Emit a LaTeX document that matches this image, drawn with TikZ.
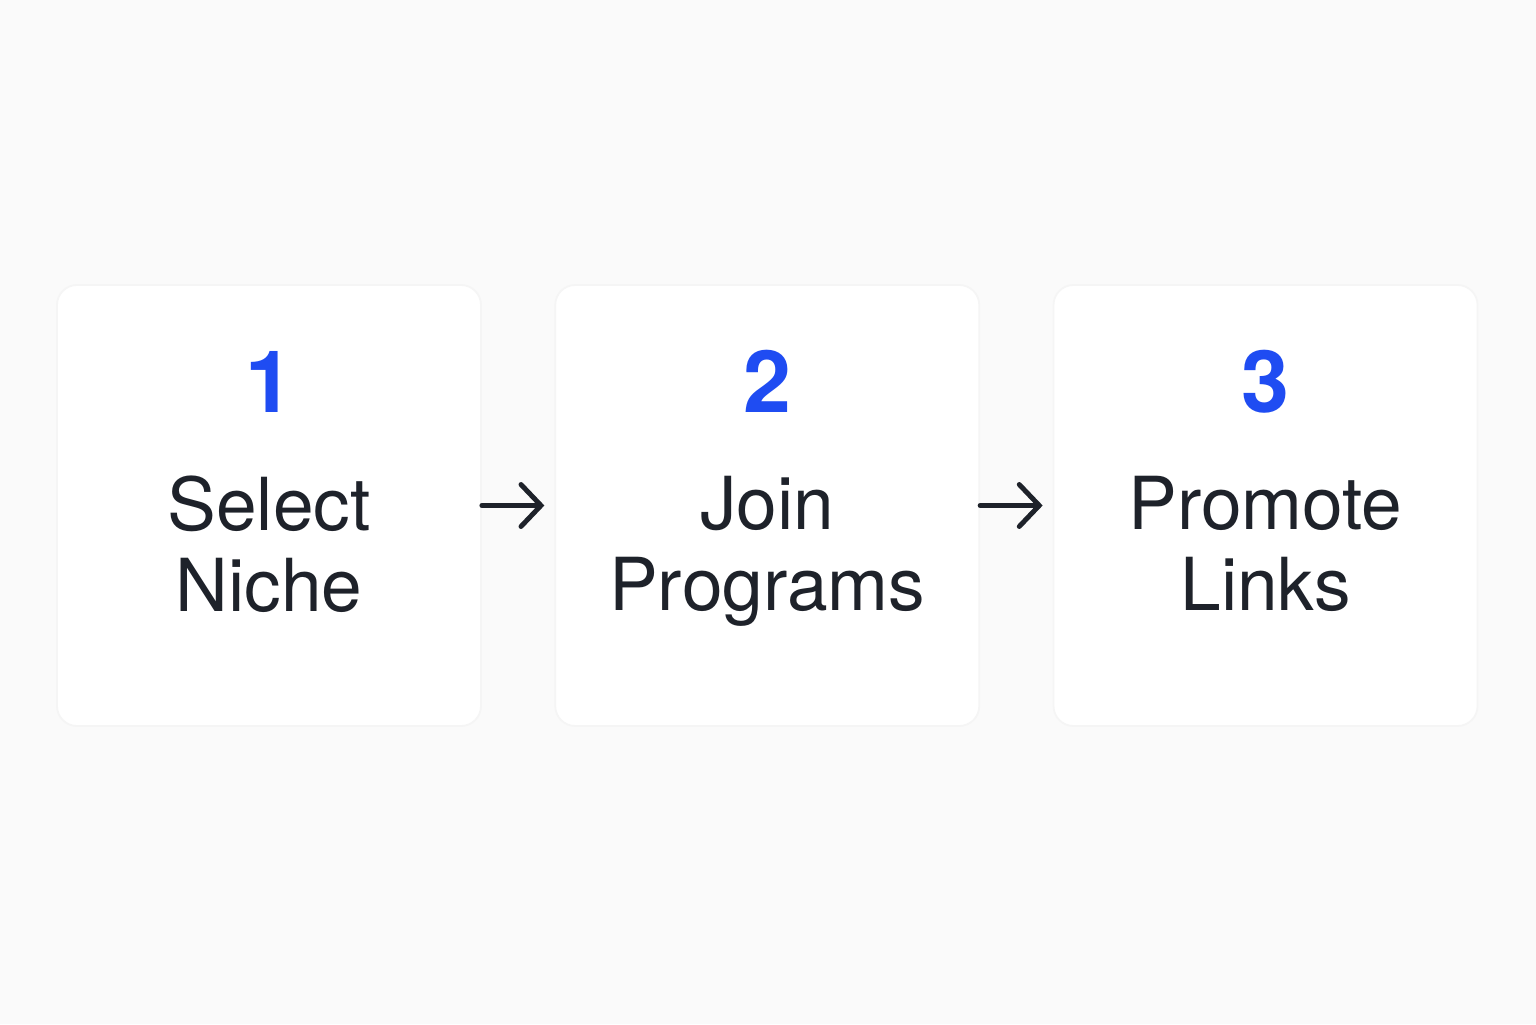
\documentclass[tikz,border=0pt]{standalone}
\usepackage{fontspec}
\setmainfont{TeX Gyre Heros}
\usetikzlibrary{arrows.meta,positioning}

\definecolor{pagebg}{HTML}{FAFAFA}
\definecolor{stepblue}{HTML}{1F4CF2}
\definecolor{steptext}{HTML}{1E222A}

\newcommand{\stepline}[1]{\vphantom{Pg}#1}

\begin{document}
\begin{tikzpicture}[
    node distance=0.725cm,
    % Boxes
    stepbox/.style={rectangle, rounded corners=0.2cm, fill=white, draw=black!4, line width=0.5pt,
        minimum width=4.24cm, minimum height=4.41cm},
    % Texts
    num/.style={font=\fontsize{24.5}{28}\selectfont\bfseries, text=stepblue, inner sep=0pt},
    lbl/.style={font=\fontsize{20.8}{23.1}\selectfont, text=steptext, align=center, inner sep=0pt},
    % Arrows
    flow/.style={-{Straight Barb[length=0.2cm,width=0.42cm,line cap=round]}, line width=1.4pt, draw=steptext, line cap=round, shorten >=0.1cm}
]
\fill[pagebg] (0,0) rectangle (15.36,10.24);
\useasboundingbox (0,0) rectangle (15.36,10.24);

% Boxes
\node[stepbox] (s1) at (2.69,5.185) {};
\node[stepbox, right=of s1] (s2) {};
\node[stepbox, right=of s2] (s3) {};

% Step numbers
\node[num, above=0.92cm of s1.center] (n1) {1};
\node[num, above=0.92cm of s2.center] (n2) {2};
\node[num, above=0.92cm of s3.center] (n3) {3};

% Step names
\node[lbl, below=0.46cm of s1.center, anchor=center] (l1) {\stepline{Select}\\\stepline{Niche}};
\node[lbl, below=0.46cm of s2.center, anchor=center] (l2) {\stepline{Join}\\\stepline{Programs}};
\node[lbl, below=0.46cm of s3.center, anchor=center] (l3) {\stepline{Promote}\\\stepline{Links}};

% Arrows
\draw[flow] (s1.east) -- (s2.west);
\draw[flow] (s2.east) -- (s3.west);

\end{tikzpicture}
\end{document}
